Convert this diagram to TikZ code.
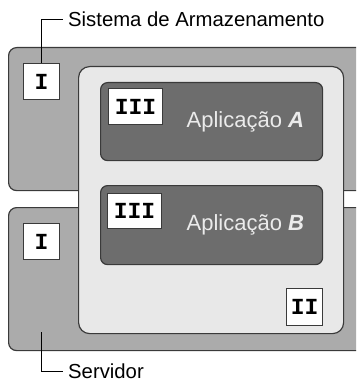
\documentclass[tikz,border=0pt]{standalone}
\usepackage{fontspec}
\setmainfont{Liberation Sans}
\newfontfamily\tagfont{Liberation Mono}
\usetikzlibrary{positioning}

\definecolor{shellgray}{HTML}{ABABAB}
\definecolor{panelgray}{HTML}{E8E8E8}
\definecolor{appgray}{HTML}{6D6D6D}
\definecolor{edgegray}{HTML}{3A3A3A}

\begin{document}
\begin{tikzpicture}[
  x=1pt, y=-1pt,
  shell/.style={rectangle, draw=edgegray, line width=1.2pt, fill=shellgray, rounded corners=8pt, anchor=north west, inner sep=0pt},
  panel/.style={shell, fill=panelgray, rounded corners=11pt},
  app/.style={shell, fill=appgray, rounded corners=7pt},
  tag/.style={rectangle, draw=edgegray, line width=1pt, fill=white, inner sep=0pt, font=\tagfont\bfseries\fontsize{23}{23}\selectfont},
  caption/.style={anchor=west, inner xsep=5pt, inner ysep=0pt, font=\fontsize{20.3}{22}\selectfont},
  apptext/.style={inner sep=0pt, text=white!92!black, font=\fontsize{22}{26}\selectfont},
  callout/.style={draw=black, line width=0.9pt}
]
  \useasboundingbox (0,0) rectangle (356,385);
  \clip (0,0) rectangle (356,385);

  % outer boxes
  \node[shell, minimum width=362pt, minimum height=143pt] (storage) at (8,47) {};
  \node[shell, minimum width=362pt, minimum height=143pt] (server) at (8,207) {};
  \node[panel, minimum width=265pt, minimum height=267pt] (panel) at (78,66) {};

  % applications
  \node[app, minimum width=222pt, minimum height=78pt] (appA) at (100,82) {};
  \node[app, minimum width=222pt, minimum height=79pt] (appB) at (100,185) {};
  \node[apptext, left=19pt of appA.east] (nameA) {Aplicação \textbf{\textit{A}}};
  \node[apptext, left=19pt of appB.east] (nameB) {Aplicação \textbf{\textit{B}}};

  % tags
  \node[tag, minimum width=54pt, minimum height=36pt, below right=6pt and 8pt of appA.north west] (tagA) {III};
  \node[tag, minimum width=54pt, minimum height=35pt, below right=8pt and 7pt of appB.north west] (tagB) {III};
  \node[tag, minimum width=36pt, minimum height=37pt, above left=8pt and 21pt of panel.south east] (tagPanel) {II};
  \node[tag, minimum width=36pt, minimum height=36pt, below right=16pt and 15pt of storage.north west] (tagStorage) {I};
  \node[tag, minimum width=36pt, minimum height=36pt, below right=16pt and 15pt of server.north west] (tagServer) {I};

  % captions
  \node[caption] (lblStorage) at (63,19) {Sistema de Armazenamento};
  \node[caption] (lblServer) at (63,371) {Servidor};
  \coordinate (srvpt) at (41,332);
  \draw[callout] (tagStorage.north) |- (lblStorage.west);
  \draw[callout] (srvpt) |- (lblServer.west);
\end{tikzpicture}
\end{document}
